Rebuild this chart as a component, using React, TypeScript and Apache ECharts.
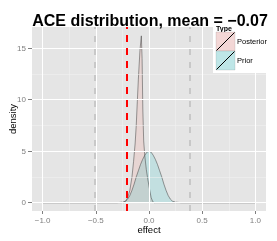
import React, { useEffect, useRef } from "react";
import * as echarts from "echarts";

const titleText = "ACE distribution, mean = −0.07";
const xAxisTitle = "effect";
const yAxisTitle = "density";
const xTicks = [-1, -0.5, 0, 0.5, 1];
const xMinor = [-0.75, -0.25, 0.25, 0.75];
const yTicks = [0, 5, 10, 15];
const yMinor = [2.5, 7.5, 12.5];
const xTickLabels = ["−1.0", "−0.5", "0.0", "0.5", "1.0"];

const posteriorX = [-1, -0.24, -0.22, -0.2, -0.18, -0.16, -0.145, -0.13, -0.12, -0.11, -0.1, -0.085, -0.072, -0.065, -0.058, -0.05, -0.04, -0.025, -0.01, 0.007, 0.02, 0.035, 0.05, 1];
const posteriorY = [0, 0, 0.15, 0.5, 1.2, 2.5, 4, 5.8, 7.5, 9.8, 12, 14.8, 16.2, 14, 9, 6, 4.6, 3.2, 2.2, 1.2, 0.5, 0.1, 0, 0];

const priorX = [-1, -0.3, -0.25, -0.22, -0.2, -0.18, -0.16, -0.14, -0.12, -0.1, -0.08, -0.06, -0.04, -0.02, 0, 0.02, 0.04, 0.06, 0.08, 0.1, 0.12, 0.14, 0.16, 0.18, 0.2, 0.22, 0.25, 0.3, 1];
const priorY = [0, 0, 0.05, 0.15, 0.35, 0.7, 1.2, 1.8, 2.5, 3.1, 3.7, 4.2, 4.6, 4.9, 5, 4.9, 4.6, 4.2, 3.7, 3.1, 2.5, 1.8, 1.2, 0.7, 0.35, 0.15, 0.05, 0, 0];

const meanLine = -0.21;
const intervalLines = [-0.505, 0.38];

const legendTitle = "Type";
const legendNames = ["Posterior", "Prior"];
const legendFills = ["#F3D7D6", "#BEE6E7"];

const FONT = "Liberation Sans, Arial, sans-serif";

export default function App() {
  const ref = useRef<HTMLDivElement>(null);
  useEffect(() => {
    if (!ref.current) return;
    const chart = echarts.init(ref.current, undefined, { renderer: "svg" });
    const vline = (v: number) => ({ xAxis: v });
    const hline = (v: number) => ({ yAxis: v });
    chart.setOption({
      animation: false,
      textStyle: { fontFamily: FONT },
      grid: {
        left: 32, top: 27, right: 11, bottom: 30,
        containLabel: false, outerBoundsMode: "none",
        show: true, backgroundColor: "#E5E5E5", borderWidth: 0,
      },
      xAxis: {
        type: "value", min: -1.1, max: 1.1,
        axisLine: { show: false, onZero: false },
        axisTick: { show: true, length: 3, lineStyle: { color: "#7F7F7F" }, customValues: xTicks },
        axisLabel: {
          color: "#7F7F7F", fontSize: 8, margin: 5, fontFamily: FONT,
          customValues: xTicks,
          formatter: (v: number) => xTickLabels[xTicks.indexOf(v)] ?? "",
        },
        splitLine: { show: false },
      },
      yAxis: {
        type: "value", min: -0.81, max: 17.06,
        axisLine: { show: false, onZero: false },
        axisTick: { show: true, length: 4, lineStyle: { color: "#7F7F7F" }, customValues: yTicks },
        axisLabel: { color: "#7F7F7F", fontSize: 8, margin: 6, fontFamily: FONT, customValues: yTicks },
        splitLine: { show: false },
      },
      series: [
        {
          type: "line", z: 1, data: [[-1, 0]], showSymbol: false, lineStyle: { width: 0 }, silent: true,
          markLine: {
            silent: true, symbol: "none", label: { show: false },
            lineStyle: { color: "#F2F2F2", width: 0.5, type: "solid" },
            data: [...xMinor.map(vline), ...yMinor.map(hline)],
          },
        },
        {
          type: "line", z: 1, data: [[-1, 0]], showSymbol: false, lineStyle: { width: 0 }, silent: true,
          markLine: {
            silent: true, symbol: "none", label: { show: false },
            lineStyle: { color: "#FFFFFF", width: 1, type: "solid" },
            data: [...xTicks.map(vline), ...yTicks.map(hline)],
          },
        },
        {
          name: "Posterior", type: "line", z: 2, showSymbol: false, smooth: false,
          data: posteriorX.map((x, i) => [x, posteriorY[i]]),
          lineStyle: { color: "rgba(60,60,60,0.5)", width: 1 },
          areaStyle: { color: "rgba(248,118,109,0.2)", origin: 0 },
        },
        {
          name: "Prior", type: "line", z: 2, showSymbol: false, smooth: false,
          data: priorX.map((x, i) => [x, priorY[i]]),
          lineStyle: { color: "rgba(60,60,60,0.5)", width: 1 },
          areaStyle: { color: "rgba(0,191,196,0.22)", origin: 0 },
        },
        {
          type: "line", z: 3, data: [[-1, 0]], showSymbol: false, lineStyle: { width: 0 }, silent: true,
          markLine: {
            silent: true, symbol: "none", label: { show: false },
            lineStyle: { color: "#BEBEBE", width: 1.5, type: [6, 7] },
            data: intervalLines.map(vline),
          },
        },
        {
          type: "line", z: 4, data: [[-1, 0]], showSymbol: false, lineStyle: { width: 0 }, silent: true,
          markLine: {
            silent: true, symbol: "none", label: { show: false },
            lineStyle: { color: "#FF0000", width: 2, type: [7, 6] },
            data: [vline(meanLine)],
          },
        },
      ],
      graphic: [
        { type: "rect", z: 50, shape: { x: 213, y: 24, width: 64, height: 49 }, style: { fill: "#FFFFFF" } },
        {
          type: "text", z: 60, x: 150, y: 12,
          style: { text: titleText, fontSize: 16, fontWeight: "bold", fill: "#000", align: "center", fontFamily: FONT },
        },
        {
          type: "text", z: 60, x: 149, y: 229,
          style: { text: xAxisTitle, fontSize: 9.5, fill: "#000", align: "center", verticalAlign: "middle", fontFamily: FONT },
        },
        {
          type: "text", z: 60, x: 12, y: 119, rotation: Math.PI / 2,
          style: { text: yAxisTitle, fontSize: 9.5, fill: "#000", align: "center", verticalAlign: "middle", fontFamily: FONT },
        },
        {
          type: "text", z: 55, x: 216, y: 25,
          style: { text: legendTitle, fontSize: 7, fontWeight: "bold", fill: "#000", fontFamily: FONT },
        },
        ...legendNames.flatMap((name, i) => {
          const y0 = 32 + i * 19;
          return [
            { type: "rect", z: 55, shape: { x: 216, y: y0, width: 19, height: 19 }, style: { fill: legendFills[i], stroke: "rgba(70,70,70,0.25)", lineWidth: 0.5 } },
            { type: "line", z: 56, shape: { x1: 216.5, y1: y0 + 18.5, x2: 234.5, y2: y0 + 0.5 }, style: { stroke: "#000", lineWidth: 1 } },
            { type: "text", z: 56, x: 237, y: y0 + 9.5, style: { text: name, fontSize: 7.5, fill: "#000", verticalAlign: "middle", fontFamily: FONT } },
          ];
        }),
      ],
    });
    return () => chart.dispose();
  }, []);
  return <div ref={ref} style={{ position: "fixed", left: 0, top: 0, width: 277, height: 241 }} />;
}
